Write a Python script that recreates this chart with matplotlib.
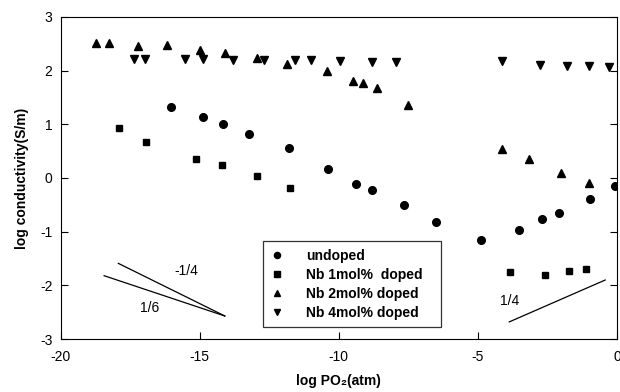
import matplotlib.pyplot as plt

plt.rcParams['font.family'] = ['Liberation Sans', 'DejaVu Sans']
plt.rcParams['axes.unicode_minus'] = False

# log PO2 / log conductivity
undoped_x = [-16.05, -14.9, -14.16, -13.23, -11.8, -10.38, -9.39, -8.8, -7.66,
             -6.49, -4.87, -3.53, -2.7, -2.07, -0.95, -0.07]
undoped_y = [1.33, 1.14, 1.01, 0.82, 0.56, 0.16, -0.11, -0.22, -0.51,
             -0.82, -1.16, -0.97, -0.77, -0.66, -0.39, -0.15]

nb1_x = [-17.92, -16.94, -15.14, -14.2, -12.93, -11.75, -3.84, -2.59, -1.71, -1.11]
nb1_y = [0.93, 0.67, 0.35, 0.25, 0.04, -0.19, -1.76, -1.8, -1.73, -1.69]

nb2_x = [-18.74, -18.26, -17.23, -16.18, -15.0, -14.1, -12.93, -11.85, -10.41,
         -9.49, -9.13, -8.62, -7.53, -4.15, -3.17, -2.01, -1.01]
nb2_y = [2.52, 2.52, 2.46, 2.47, 2.39, 2.32, 2.24, 2.12, 1.99,
         1.8, 1.77, 1.68, 1.36, 0.54, 0.35, 0.1, -0.09]

nb4_x = [-17.35, -16.97, -15.54, -14.88, -13.8, -12.69, -11.58, -11.0, -9.96,
         -8.81, -7.96, -4.14, -2.77, -1.81, -1.01, -0.28]
nb4_y = [2.21, 2.21, 2.21, 2.21, 2.19, 2.19, 2.19, 2.19, 2.18,
         2.16, 2.16, 2.17, 2.1, 2.09, 2.09, 2.07]

labels = ['undoped', 'Nb 1mol%  doped', 'Nb 2mol% doped', 'Nb 4mol% doped']

# slope guide lines
slope_m14_x = [-17.93, -14.1]
slope_m14_y = [-1.59, -2.57]
slope_16_x = [-18.44, -14.1]
slope_16_y = [-1.82, -2.57]
slope_14_x = [-3.87, -0.42]
slope_14_y = [-2.68, -1.9]

fig = plt.figure(figsize=(6.2, 3.92), dpi=100)
ax = fig.add_axes([0.098, 0.135, 0.897, 0.822])

ms = 5.5
ax.plot(undoped_x, undoped_y, 'o', color='black', ms=ms, label=labels[0])
ax.plot(nb1_x, nb1_y, 's', color='black', ms=ms - 0.5, label=labels[1])
ax.plot(nb2_x, nb2_y, '^', color='black', ms=ms, label=labels[2])
ax.plot(nb4_x, nb4_y, 'v', color='black', ms=ms, label=labels[3])

for xs, ys in [(slope_m14_x, slope_m14_y), (slope_16_x, slope_16_y), (slope_14_x, slope_14_y)]:
    ax.plot(xs, ys, color='black', lw=0.9)

ax.text(-15.5, -1.73, '-1/4', fontsize=10, ha='center', va='center')
ax.text(-16.8, -2.42, '1/6', fontsize=10, ha='center', va='center')
ax.text(-3.85, -2.29, '1/4', fontsize=10, ha='center', va='center')

ax.set_xlim(-20, 0)
ax.set_ylim(-3, 3)
ax.set_xticks([-20, -15, -10, -5, 0])
ax.set_yticks([-3, -2, -1, 0, 1, 2, 3])
ax.tick_params(direction='in', right=True, labelsize=10, length=5)
ax.tick_params(axis='x', pad=8)
ax.tick_params(axis='y', pad=6)

ax.set_xlabel('log PO₂(atm)', fontsize=10, fontweight='bold', labelpad=7)
ax.set_ylabel('log conductivity(S/m)', fontsize=10, fontweight='bold', labelpad=8)

leg = ax.legend(loc='lower left', bbox_to_anchor=(0.363, 0.037, 0.32, 0.261),
                mode='expand', frameon=True, fancybox=False, edgecolor='black',
                fontsize=10, handlelength=1.0, handletextpad=1.6, borderpad=0.55,
                labelspacing=0.35, markerscale=0.8, borderaxespad=0)
leg.get_frame().set_linewidth(0.9)
for t in leg.get_texts():
    t.set_fontweight('bold')

fig.savefig('out.png', dpi=100)
